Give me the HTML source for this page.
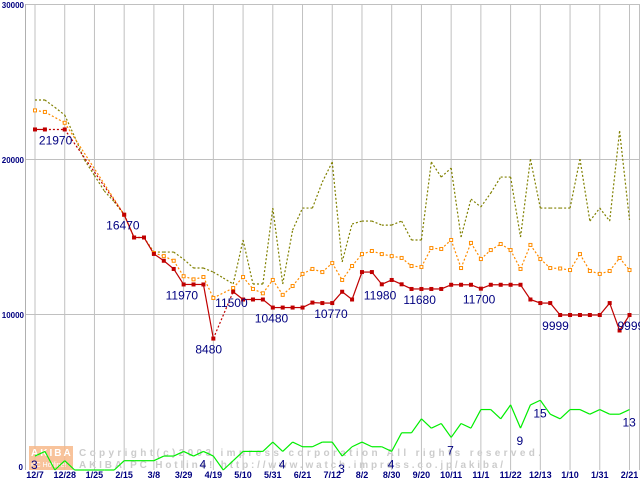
<!DOCTYPE html>
<html><head><meta charset="utf-8"><style>
html,body{margin:0;padding:0;background:#fff}
svg{display:block}
text{font-family:"Liberation Sans",sans-serif}
</style></head><body>
<svg id="chart" width="640" height="480" viewBox="0 0 640 480" xmlns="http://www.w3.org/2000/svg">
<g id="grid"></g>
<g id="watermark">
  <rect x="29" y="446" width="44" height="24" fill="#f7b98a" opacity="0.85"/>
  <text x="31" y="456" font-size="10" font-weight="bold" fill="#fff" letter-spacing="2">AKIBA</text>
  <text x="31" y="467" font-size="7" fill="#fff">PC Hotline!</text>
  <text x="79" y="456" font-size="10" font-family="Liberation Mono" fill="#cccccc" font-weight="bold" textLength="462" lengthAdjust="spacing">Copyright(c)2003 impress corporation All rights reserved.</text>
  <text x="79" y="468" font-size="10" font-family="Liberation Mono" fill="#cccccc" font-weight="bold" textLength="424" lengthAdjust="spacing">AKIBA PC Hotline! http://www.watch.impress.co.jp/akiba/</text>
</g>
<g id="series"></g>
<g id="labels"></g>
</svg>
<script>
const xLabels=["12/7","12/28","1/25","2/15","3/8","3/29","4/19","5/10","5/31","6/21","7/12","8/2","8/30","9/20","10/11","11/1","11/22","12/13","1/10","1/31","2/21"];
const yTicks=[0,10000,20000,30000];
const N=null;
const minPrice=[21970,21970,N,21970,N,N,N,N,N,16470,15000,15000,13940,13500,12970,11970,11970,11970,8480,N,11500,11000,11000,11000,10480,10480,10480,10480,10800,10770,10770,11500,11000,12770,12770,11980,12260,11980,11680,11680,11680,11680,11950,11950,11950,11700,11950,11950,11950,11950,11000,10770,10770,9999,9999,9999,9999,9999,10770,9000,9999];
const avgPrice=[23200,23100,N,22400,N,N,N,N,N,16470,15000,15000,14000,13800,13500,12500,12300,12450,11100,N,11740,12450,11680,11400,12260,11300,11870,12650,12970,12770,13350,12260,13160,13930,14130,13930,13800,13680,13160,13100,14320,14260,14840,13030,14650,13610,14190,14580,14190,12970,14520,13610,13030,13000,12900,13930,12840,12650,12840,13680,12900];
const maxPrice=[23870,23870,23400,22900,21500,20000,19000,18000,17300,16470,15000,15000,14060,14060,14060,13600,13030,13030,12770,12390,12000,14840,12000,12000,16900,12000,15480,16900,16900,18580,19870,13420,15870,16060,16060,15800,15800,16060,14840,14840,19870,18900,19480,15030,17480,16970,17870,18900,18900,15030,20060,16900,16900,16900,16900,20060,16060,16900,16060,21870,16130];
const shopCount=[3,4,0,2,0,0,0,0,0,2,2,2,2,3,3,4,3,4,3,0,2,4,4,4,6,4,6,5,5,6,6,3,5,6,5,5,4,8,8,11,9,10,7,10,9,13,13,11,14,9,14,15,12,11,13,13,12,13,12,12,13];
const priceLabelIdx=[1,9,15,20,18,24,30,35,39,45,53,60];
const priceLabelText=["21970","16470","11970","11500","8480","10480","10770","11980","11680","11700","9999","9999"];
const countLabelIdx=[0,17,25,31,36,42,49,51,60];
const countLabelText=["3","4","4","3","4","7","9","15","13"];

const NS="http://www.w3.org/2000/svg";
const x0=35,xStep=(629.5-35)/60,yBase=470,yScale=155/10000,countScale=300;
const X=i=>x0+i*xStep;
const Y=v=>yBase-v*yScale;
function mk(tag,attrs,parent){const e=document.createElementNS(NS,tag);for(const k in attrs)e.setAttribute(k,attrs[k]);parent.appendChild(e);return e;}
const grid=document.getElementById('grid'),ser=document.getElementById('series'),lab=document.getElementById('labels');

yTicks.forEach(t=>{
  if(t>0){const l=mk('line',{x1:25,x2:640,y1:Y(t)-0.5,y2:Y(t)-0.5,stroke:'#c0c0c0','stroke-width':1},grid);
  
  }
  const tx=mk('text',{x:t===0?23:24,y:Y(t)+(t===0?0:3),'font-size':8,'font-weight':'bold',fill:'#000080','text-anchor':'end','font-family':'Liberation Mono'},grid);
  tx.textContent=String(t);
  
  
});
const ax=mk('line',{x1:25.5,x2:25.5,y1:4,y2:470,stroke:'#b0b0b0'},grid);


mk('line',{x1:639.5,x2:639.5,y1:4,y2:470,stroke:'#c0c0c0'},grid);
xLabels.forEach((s,k)=>{
  const x=X(k*3);
  const l=mk('line',{x1:x,x2:x,y1:4,y2:470,stroke:'#c0c0c0'},grid);
  
  
  const t=mk('text',{x:x,y:478,'font-size':9,'font-weight':'bold',fill:'#000080','text-anchor':'middle','font-family':'Liberation Mono'},grid);
  t.textContent=s;
  
  
});

function drawSeries(arr,color,solid,dash,name){
  let prev=-1;
  for(let i=0;i<arr.length;i++){
    if(arr[i]===null)continue;
    if(prev>=0){
      const gap=i-prev>1;
      const a={x1:X(prev),y1:Y(arr[prev]),x2:X(i),y2:Y(arr[i]),stroke:color,'stroke-width':1.2};
      if(!solid||gap)a['stroke-dasharray']=dash;
      const l=mk('line',a,ser);
      
      
    }
    prev=i;
  }
}
drawSeries(maxPrice,'#808000',false,'2,2','max-price');
drawSeries(avgPrice,'#ff8c00',false,'2,2','avg-price');
drawSeries(minPrice,'#c00000',true,'2,2','min-price');
avgPrice.forEach((v,i)=>{if(v===null)return;
  const r=mk('rect',{x:X(i)-1.5,y:Y(v)-1.5,width:3,height:3,fill:'#fff',stroke:'#ff8c00','stroke-width':1},ser);
  
  
});
minPrice.forEach((v,i)=>{if(v===null)return;
  const r=mk('rect',{x:X(i)-2,y:Y(v)-2,width:4,height:4,fill:'#c00000'},ser);
  
  
});
for(let i=1;i<shopCount.length;i++){
  const l=mk('line',{x1:X(i-1),y1:Y(shopCount[i-1]*countScale),x2:X(i),y2:Y(shopCount[i]*countScale),stroke:'#00ee00','stroke-width':1.2},ser);
  
  
}
priceLabelIdx.forEach((i,k)=>{
  const t=mk('text',{x:X(i)+(k===0?-6:k===11?-12:-18),y:Y(minPrice[i])+15,'font-size':12,fill:'#000080'},lab);
  t.textContent=priceLabelText[k];
  
  
});
countLabelIdx.forEach((i,k)=>{
  const txt=countLabelText[k];
  const t=mk('text',{x:X(i)-(txt.length>1?7:4),y:Y(shopCount[i]*countScale)+(k===0?13:17),'font-size':12,fill:'#000080'},lab);
  t.textContent=txt;
  
  
});
</script>
</body></html>
